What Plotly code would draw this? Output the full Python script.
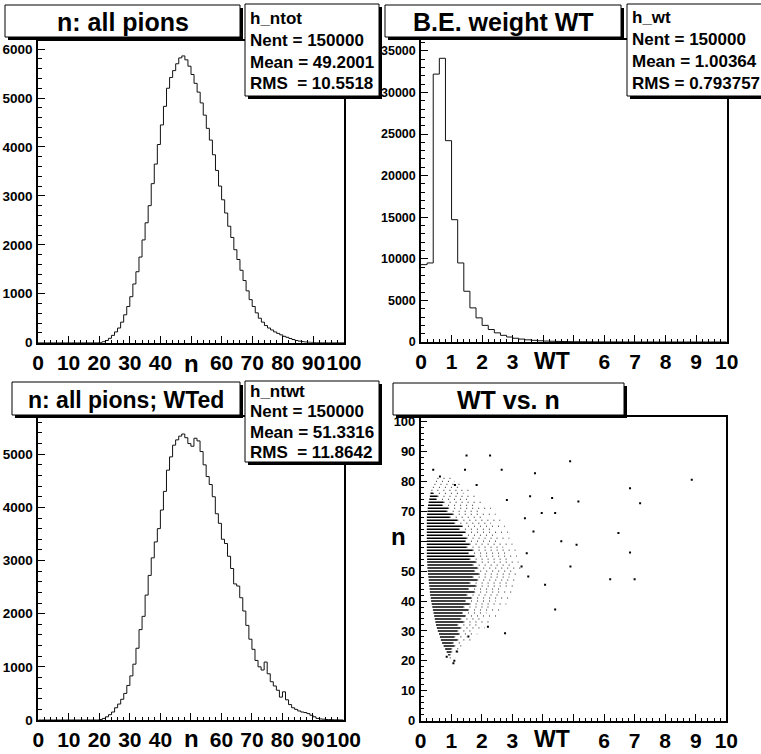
import plotly.graph_objects as go

# ---------------- data ----------------
# panel 1: n, all pions (bins of width 1 from 0 to 100)
ntot_counts = [0]*20 + [
    5, 20, 45, 90, 150, 220, 300, 420, 570, 740,
    940, 1200, 1450, 1750, 2100, 2450, 2800, 3250, 3650, 4050,
    4450, 4830, 5200, 5420, 5560, 5700, 5820, 5860, 5780, 5650,
    5480, 5300, 5120, 4900, 4650, 4380, 4140, 3840, 3520, 3200,
    2920, 2650, 2380, 2150, 1900, 1700, 1480, 1270, 1060, 880,
    740, 610, 500, 420, 350, 300, 260, 220, 190, 160,
    130, 110, 85, 65, 45, 32, 22, 14, 9, 6,
    3, 2, 1, 1, 0, 0, 0, 0, 0, 0]

# panel 2: B.E. weight WT (bins of width 0.2 from 0 to 10)
wt_counts = [9300, 9500, 32200, 34100, 24200, 14700, 9500, 6100, 4100, 2900,
             2000, 1500, 1100, 800, 600, 450, 350, 260, 200, 150,
             110, 90, 70, 55, 40, 30, 25, 20, 15, 12,
             10, 8, 6, 5, 4, 3, 2, 2, 1, 1,
             1, 1, 1, 0, 0, 0, 0, 0, 0, 0]

# panel 3: n, all pions, weighted
ntwt_counts = [0]*20 + [
    10, 30, 60, 100, 150, 230, 300, 390, 500, 650,
    830, 1050, 1350, 1700, 1950, 2350, 2720, 3050, 3350, 3600,
    3950, 4300, 4700, 4950, 5170, 5270, 5340, 5380, 5310, 5200,
    5150, 5300, 5250, 5050, 4800, 4580, 4430, 4200, 3880, 3700,
    3400, 3320, 3080, 2850, 2560, 2520, 2300, 2050, 1780, 1520,
    1330, 1120, 1000, 940, 1090, 870, 720, 640, 560, 430,
    530, 380, 290, 230, 200, 170, 150, 140, 120, 90,
    60, 30, 20, 15, 10, 8, 5, 3, 2, 1]

# panel 4: WT vs n scatter, read as rows (integer n): dense streak, then sparse dots
row_n = list(range(21, 82))
dense_lo = [0.95, 0.90, 0.85, 0.80, 0.75, 0.70, 0.66, 0.63, 0.60, 0.56,
            0.53, 0.50, 0.48, 0.46, 0.44, 0.42, 0.40, 0.38, 0.36, 0.34,
            0.33, 0.31, 0.30, 0.29, 0.28, 0.27, 0.26, 0.25, 0.24, 0.23,
            0.22, 0.22, 0.21, 0.21, 0.20, 0.20, 0.20, 0.20, 0.20, 0.20,
            0.20, 0.20, 0.20, 0.20, 0.20, 0.20, 0.20, 0.20, 0.21, 0.22,
            0.23, 0.24, 0.26, 0.28, 0.30, 0.32, 0.35, 0.40, 0.45, 0.50, 0.55]
dense_hi = [0.95, 0.95, 1.00, 1.00, 1.10, 1.05, 1.20, 1.10, 1.25, 1.20,
            1.30, 1.20, 1.40, 1.30, 1.45, 1.35, 1.55, 1.40, 1.60, 1.45,
            1.65, 1.50, 1.75, 1.55, 1.80, 1.60, 1.85, 1.70, 1.90, 1.75,
            1.85, 1.70, 1.80, 1.60, 1.75, 1.55, 1.70, 1.50, 1.60, 1.45,
            1.50, 1.35, 1.45, 1.25, 1.35, 1.10, 1.20, 0.95, 1.05, 0.85,
            0.90, 0.70, 0.75, 0.50, 0.55, 0.40, 0.35, 0.40, 0.45, 0.50, 0.55]
sparse_hi = [1.15, 1.10, 1.30, 1.25, 1.45, 1.35, 1.65, 1.50, 1.85, 1.70,
             2.10, 1.85, 2.30, 2.00, 2.50, 2.15, 2.70, 2.30, 2.80, 2.45,
             2.95, 2.60, 3.05, 2.70, 3.10, 2.85, 3.20, 2.90, 3.25, 3.00,
             3.30, 2.95, 3.20, 2.90, 3.15, 2.80, 3.10, 2.70, 3.00, 2.60,
             2.90, 2.50, 2.85, 2.40, 2.75, 2.30, 2.60, 2.10, 2.45, 2.00,
             2.30, 1.80, 2.10, 1.60, 1.90, 1.40, 1.70, 1.25, 1.40, 1.10, 1.00]
iso_wt = [1.50, 2.27, 4.89, 0.41, 0.63, 1.45, 2.65, 3.74, 8.87, 6.85, 1.12, 1.83,
          3.58, 4.30, 2.82, 5.16, 7.18, 6.47, 6.85, 4.60, 5.10, 6.20, 7.00, 4.07,
          4.40, 4.90, 3.96, 4.40, 2.76, 2.20, 1.56, 1.18, 1.07, 0.85, 3.47, 3.52,
          3.30, 3.69, 3.41, 1.10]
iso_n = [88.6, 88.6, 86.7, 83.9, 81.6, 83.9, 83.9, 82.7, 80.5, 77.7, 78.8, 78.8,
         75.0, 74.4, 73.8, 73.3, 72.7, 62.7, 56.2, 60.0, 58.8, 47.3, 47.3, 45.4,
         37.2, 51.5, 69.4, 69.4, 29.2, 31.4, 28.1, 23.1, 19.2, 21.4, 56.0, 48.2,
         51.5, 63.2, 67.7, 20.0]

titles = ["n: all pions", "B.E. weight WT", "n: all pions; WTed", "WT vs. n"]
stats = [["h_ntot", "Nent = 150000", "Mean = 49.2001", "RMS\u00a0 = 10.5518"],
         ["h_wt", "Nent = 150000", "Mean = 1.00364", "RMS = 0.793757"],
         ["h_ntwt", "Nent = 150000", "Mean = 51.3316", "RMS\u00a0 = 11.8642"]]

# ---------------- figure ----------------
W, H = 761, 754
FONT = "Liberation Sans"


def px(x):
    return x / W


def py(y):
    return 1 - y / H


fig = go.Figure()


def step_trace(edges_w, counts, xa, ya):
    xs = [i * edges_w for i in range(len(counts) + 1)]
    ys = list(counts) + [counts[-1]]
    return go.Scatter(x=xs, y=ys, mode="lines", line=dict(color="#111", width=1, shape="hv"),
                      xaxis=xa, yaxis=ya, showlegend=False, hoverinfo="skip")


fig.add_trace(step_trace(1, ntot_counts, "x", "y"))
fig.add_trace(step_trace(0.2, wt_counts, "x2", "y2"))
fig.add_trace(step_trace(1, ntwt_counts, "x3", "y3"))

dx, dy, sx, sy = [], [], [], []
for n, lo, hi, sh in zip(row_n, dense_lo, dense_hi, sparse_hi):
    if hi > lo:
        dx += [lo, hi, None]
        dy += [n, n, None]
    sx += [hi, sh, None]
    sy += [n, n, None]
fig.add_trace(go.Scatter(x=sx, y=sy, mode="lines", line=dict(color="#222", width=1, dash="1px,5px"),
                         xaxis="x4", yaxis="y4", showlegend=False, hoverinfo="skip"))
fig.add_trace(go.Scatter(x=dx, y=dy, mode="lines", line=dict(color="#000", width=1.5),
                         xaxis="x4", yaxis="y4", showlegend=False, hoverinfo="skip"))
fig.add_trace(go.Scatter(x=iso_wt, y=iso_n, mode="markers",
                         marker=dict(color="#000", size=2, symbol="square", line=dict(width=0)),
                         xaxis="x4", yaxis="y4", showlegend=False, hoverinfo="skip"))

xtick_font = dict(family=FONT, size=21, color="black", weight="bold")


def xaxis(dom, rng, vals, texts, minor_dt, anchor):
    return dict(domain=dom, range=rng, anchor=anchor, showline=True, mirror=True, linecolor="black",
                linewidth=1.5, showgrid=False, zeroline=False, ticks="inside", ticklen=7, tickwidth=1,
                tickcolor="black", tickmode="array", tickvals=vals, ticktext=texts,
                tickfont=xtick_font, ticklabelstandoff=0, tickangle=0, automargin=False,
                minor=dict(tickmode="linear", tick0=0, dtick=minor_dt, ticks="inside", ticklen=3,
                           tickcolor="black", tickwidth=1, showgrid=False))


def yaxis(dom, rng, vals, texts, minor_dt, anchor, fs):
    return dict(domain=dom, range=rng, anchor=anchor, showline=True, mirror=True, linecolor="black",
                linewidth=1.5, showgrid=False, zeroline=False, ticks="inside", ticklen=7, tickwidth=1,
                tickcolor="black", tickmode="array", tickvals=vals, ticktext=texts,
                tickfont=dict(family=FONT, size=fs, color="black", weight="bold"),
                ticklabelstandoff=1, tickangle=0, automargin=False,
                minor=dict(tickmode="linear", tick0=0, dtick=minor_dt, ticks="inside", ticklen=4,
                           tickcolor="black", tickwidth=1, showgrid=False))


n_ticks = list(range(0, 101, 10))
n_text = [str(v) if v != 50 else "" for v in n_ticks]
wt_ticks = list(range(0, 11))
wt_text = [str(v) if v not in (4, 5) else "" for v in wt_ticks]

fig.update_layout(
    width=W, height=H, margin=dict(l=0, r=0, t=0, b=0, pad=0, autoexpand=False),
    paper_bgcolor="white", plot_bgcolor="white", showlegend=False,
    xaxis=xaxis([px(38), px(344)], [0, 100], n_ticks, n_text, 2, "y"),
    yaxis=yaxis([py(342.7), py(41)], [0, 6165], list(range(0, 7000, 1000)),
                [str(v) for v in range(0, 7000, 1000)], 200, "x", 13.5),
    xaxis2=xaxis([px(421), px(726.7)], [0, 10], wt_ticks, wt_text, 0.2, "y2"),
    yaxis2=yaxis([py(342), py(40)], [0, 36300], list(range(0, 40000, 5000)),
                 [str(v) for v in range(0, 40000, 5000)], 1000, "x2", 12.5),
    xaxis3=xaxis([px(38.3), px(343.5)], [0, 100], n_ticks, n_text, 2, "y3"),
    yaxis3=yaxis([py(720), py(417)], [0, 5700], list(range(0, 6000, 1000)),
                 [str(v) for v in range(0, 6000, 1000)], 200, "x3", 13.5),
    xaxis4=xaxis([px(420.7), px(726.3)], [0, 10], wt_ticks, wt_text, 0.2, "y4"),
    yaxis4=yaxis([py(720.7), py(417)], [0, 101.5], list(range(0, 101, 10)),
                 [str(v) if v != 60 else "" for v in range(0, 101, 10)], 2, "x4", 13),
)

shapes = []
annotations = []


def box(x0, y0, x1, y1):
    shapes.append(dict(type="rect", xref="paper", yref="paper", x0=px(x0 + 3), x1=px(x1 + 3),
                       y0=py(y1 + 3), y1=py(y0 + 3), fillcolor="black", line=dict(width=0), layer="above"))
    shapes.append(dict(type="rect", xref="paper", yref="paper", x0=px(x0), x1=px(x1),
                       y0=py(y1), y1=py(y0), fillcolor="white", line=dict(color="black", width=1),
                       layer="above"))


def text(x, y, s, size, anchor="center"):
    annotations.append(dict(x=px(x), y=py(y), xref="paper", yref="paper", text=s, showarrow=False,
                            xanchor=anchor, yanchor="middle",
                            font=dict(family=FONT, size=size, color="black", weight="bold")))


# title boxes
title_boxes = [(5, 5, 240, 37), (385, 5, 621, 37), (12, 382, 240, 415), (393, 383, 624, 415)]
title_sizes = [25, 25, 23, 25]
for (x0, y0, x1, y1), t, s in zip(title_boxes, titles, title_sizes):
    box(x0, y0, x1, y1)
    text((x0 + x1) / 2, (y0 + y1) / 2 + 1, t, s)

# stats boxes
stat_boxes = [(245, 4, 379, 96), (627, 4, 775, 96), (245, 381, 379, 462)]
stat_rows = [[19, 40.5, 62, 83.5], [18, 40, 61.7, 83.3], [391.7, 411.7, 432.3, 452.3]]
for (x0, y0, x1, y1), lines, rows in zip(stat_boxes, stats, stat_rows):
    box(x0, y0, x1, y1)
    for s, yy in zip(lines, rows):
        text(x0 + 3, yy, s, 17, anchor="left")

# axis titles replacing tick labels
axis_font = dict(family=FONT, size=24, color="black", weight="bold")
annotations.append(dict(x=50.2, y=py(363), xref="x", yref="paper", text="n", showarrow=False,
                        xanchor="center", yanchor="middle", font=axis_font))
annotations.append(dict(x=50.2, y=0, xref="x3", yref="paper", text="n", showarrow=False,
                        xanchor="center", yanchor="bottom", font=axis_font))
annotations.append(dict(x=4.3, y=py(361), xref="x2", yref="paper", text="WT", showarrow=False,
                        xanchor="center", yanchor="middle", font=dict(axis_font, size=23)))
annotations.append(dict(x=4.3, y=0, xref="x4", yref="paper", text="WT", showarrow=False,
                        xanchor="center", yanchor="bottom", font=dict(axis_font, size=23)))
annotations.append(dict(x=px(399), y=61.4, xref="paper", yref="y4", text="n", showarrow=False,
                        xanchor="center", yanchor="middle", font=axis_font))

fig.update_layout(shapes=shapes, annotations=annotations)
fig.write_html("out.html")
